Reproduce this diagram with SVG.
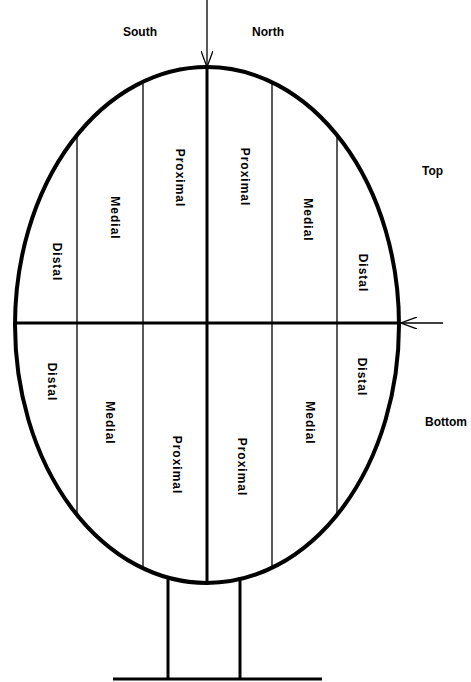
<svg xmlns="http://www.w3.org/2000/svg" width="471" height="682" viewBox="0 0 471 682">
<style>
.thick{stroke:#000;stroke-width:4;fill:none}
.mid{stroke:#000;stroke-width:3;fill:none}
.thin{stroke:#000;stroke-width:1.3;fill:none}
.lbl{font-family:"Liberation Sans",Arial,sans-serif;font-weight:bold;font-size:12px;fill:#000}
.rot{font-family:"Liberation Sans",Arial,sans-serif;font-weight:bold;font-size:12px;letter-spacing:1px;fill:#000;text-anchor:middle;dominant-baseline:central}
</style>
<defs>
<marker id="arr" viewBox="0 0 16 12" refX="16" refY="6" markerWidth="16" markerHeight="12" markerUnits="userSpaceOnUse" orient="auto">
<path d="M0,0 L16,6 L0,12" fill="none" stroke="#000" stroke-width="1.3"/>
</marker>
</defs>
<rect width="471" height="682" fill="#fff"/>
<g id="stand">
<line class="mid" x1="168" y1="577" x2="168" y2="679"/>
<line class="mid" x1="240" y1="577" x2="240" y2="679"/>
<line class="mid" x1="113" y1="679" x2="322" y2="679"/>
</g>
<g id="sections">
<line class="thin" x1="77" y1="137" x2="77" y2="513"/>
<line class="thin" x1="143" y1="84" x2="143" y2="566"/>
<line class="thin" x1="272" y1="84" x2="272" y2="566"/>
<line class="thin" x1="337" y1="137" x2="337" y2="513"/>
</g>
<g id="connectors">
<line class="thin" x1="207" y1="0" x2="207" y2="67" marker-end="url(#arr)"/>
<line class="thin" x1="443" y1="323" x2="401" y2="323" marker-end="url(#arr)"/>
<line class="mid" x1="207" y1="67" x2="207" y2="583"/>
<line class="mid" x1="15" y1="323" x2="399" y2="323"/>
</g>
<g id="ellipse">
<ellipse class="thick" cx="207" cy="325" rx="192" ry="258"/>
</g>
<g id="labels">
<text class="lbl" x="123" y="36">South</text>
<text class="lbl" x="252" y="36">North</text>
<text class="lbl" x="422" y="175">Top</text>
<text class="lbl" x="425" y="426">Bottom</text>
</g>
<g id="section-labels">
<text class="rot" transform="translate(57,262) rotate(90)">Distal</text>
<text class="rot" transform="translate(115,218) rotate(90)">Medial</text>
<text class="rot" transform="translate(180,178) rotate(90)">Proximal</text>
<text class="rot" transform="translate(245,177) rotate(90)">Proximal</text>
<text class="rot" transform="translate(308,220) rotate(90)">Medial</text>
<text class="rot" transform="translate(363,273) rotate(90)">Distal</text>
<text class="rot" transform="translate(52,382) rotate(90)">Distal</text>
<text class="rot" transform="translate(110,423) rotate(90)">Medial</text>
<text class="rot" transform="translate(177,465) rotate(90)">Proximal</text>
<text class="rot" transform="translate(242,467) rotate(90)">Proximal</text>
<text class="rot" transform="translate(310,423) rotate(90)">Medial</text>
<text class="rot" transform="translate(362,377) rotate(90)">Distal</text>
</g>
</svg>
